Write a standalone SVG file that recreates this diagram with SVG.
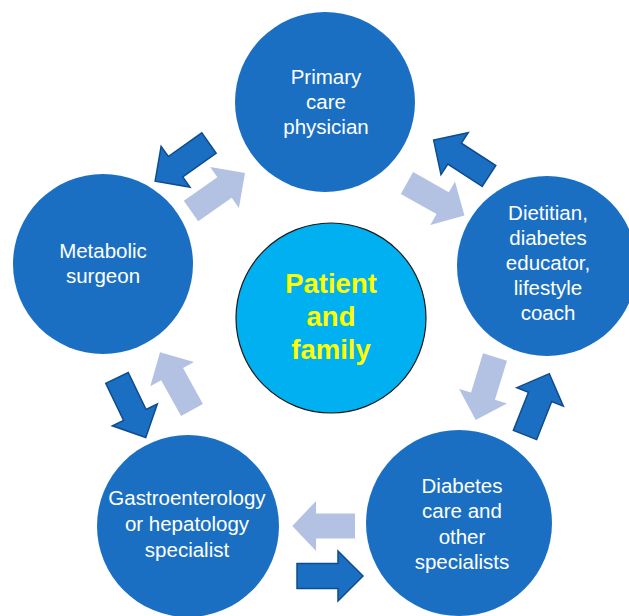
<svg xmlns="http://www.w3.org/2000/svg" width="629" height="616" viewBox="0 0 629 616">
  <defs>
    <!-- block arrow: tail centre at origin, tip at (66,0) -->
    <polygon id="blk" points="0,-12.5 41,-12.5 41,-25 66,0 41,25 41,12.5 0,12.5"/>
    <style>
      .role { fill: #1B6FC3; }
      .role text { fill: #FFFFFF; font-family: "Liberation Sans", Arial, sans-serif; font-size: 20.5px; text-anchor: middle; }
      .core { fill: #00B0F0; stroke: #1A1A1A; stroke-width: 1.2; }
      .core-t { fill: #FFFF00; font-family: "Liberation Sans", Arial, sans-serif; font-size: 27.5px; font-weight: bold; text-anchor: middle; }
      .fwd { fill: #1B6FC3; stroke: #0E4C8C; stroke-width: 1.5; stroke-linejoin: miter; }
      .back { fill: #B3C2E3; }
    </style>
  </defs>
  <rect width="629" height="616" fill="#FFFFFF"/>

  <g id="connectors">
    <use href="#blk" class="fwd" transform="translate(209,143) rotate(144.7)"/>
    <use href="#blk" class="back" transform="translate(191,211) rotate(-35.1)"/>
    <use href="#blk" class="fwd" transform="translate(489,176) rotate(213)"/>
    <use href="#blk" class="back" transform="translate(407,183) rotate(29.5)"/>
    <use href="#blk" class="back" transform="translate(495,357) rotate(107)"/>
    <use href="#blk" class="fwd" transform="translate(525,435) rotate(-68.4)"/>
    <use href="#blk" class="fwd" transform="translate(117,378) rotate(64.2)"/>
    <use href="#blk" class="back" transform="translate(192,410) rotate(-119)"/>
    <use href="#blk" class="back" transform="translate(355,526) rotate(180) scale(0.95,1)"/>
    <use href="#blk" class="fwd" transform="translate(297,576) rotate(0)"/>
  </g>

  <g id="primary-care" class="role">
    <circle cx="325" cy="102" r="90"/>
    <text x="326" y="84">Primary</text>
    <text x="326" y="109">care</text>
    <text x="326" y="134">physician</text>
  </g>

  <g id="dietitian" class="role">
    <circle cx="547" cy="266" r="90"/>
    <text x="548" y="220">Dietitian,</text>
    <text x="548" y="245">diabetes</text>
    <text x="548" y="270">educator,</text>
    <text x="548" y="295">lifestyle</text>
    <text x="548" y="320">coach</text>
  </g>

  <g id="diabetes-care" class="role">
    <circle cx="459" cy="523" r="93"/>
    <text x="462" y="493">Diabetes</text>
    <text x="462" y="518">care and</text>
    <text x="462" y="544">other</text>
    <text x="462" y="569">specialists</text>
  </g>

  <g id="gastro" class="role">
    <circle cx="188" cy="526" r="91"/>
    <text x="187" y="505">Gastroenterology</text>
    <text x="187" y="531">or hepatology</text>
    <text x="187" y="557">specialist</text>
  </g>

  <g id="metabolic-surgeon" class="role">
    <circle cx="103" cy="264" r="90"/>
    <text x="103" y="258">Metabolic</text>
    <text x="103" y="283">surgeon</text>
  </g>

  <g id="patient">
    <circle class="core" cx="331" cy="318" r="95"/>
    <text class="core-t" x="331" y="293">Patient</text>
    <text class="core-t" x="331" y="326">and</text>
    <text class="core-t" x="331" y="359">family</text>
  </g>
</svg>
